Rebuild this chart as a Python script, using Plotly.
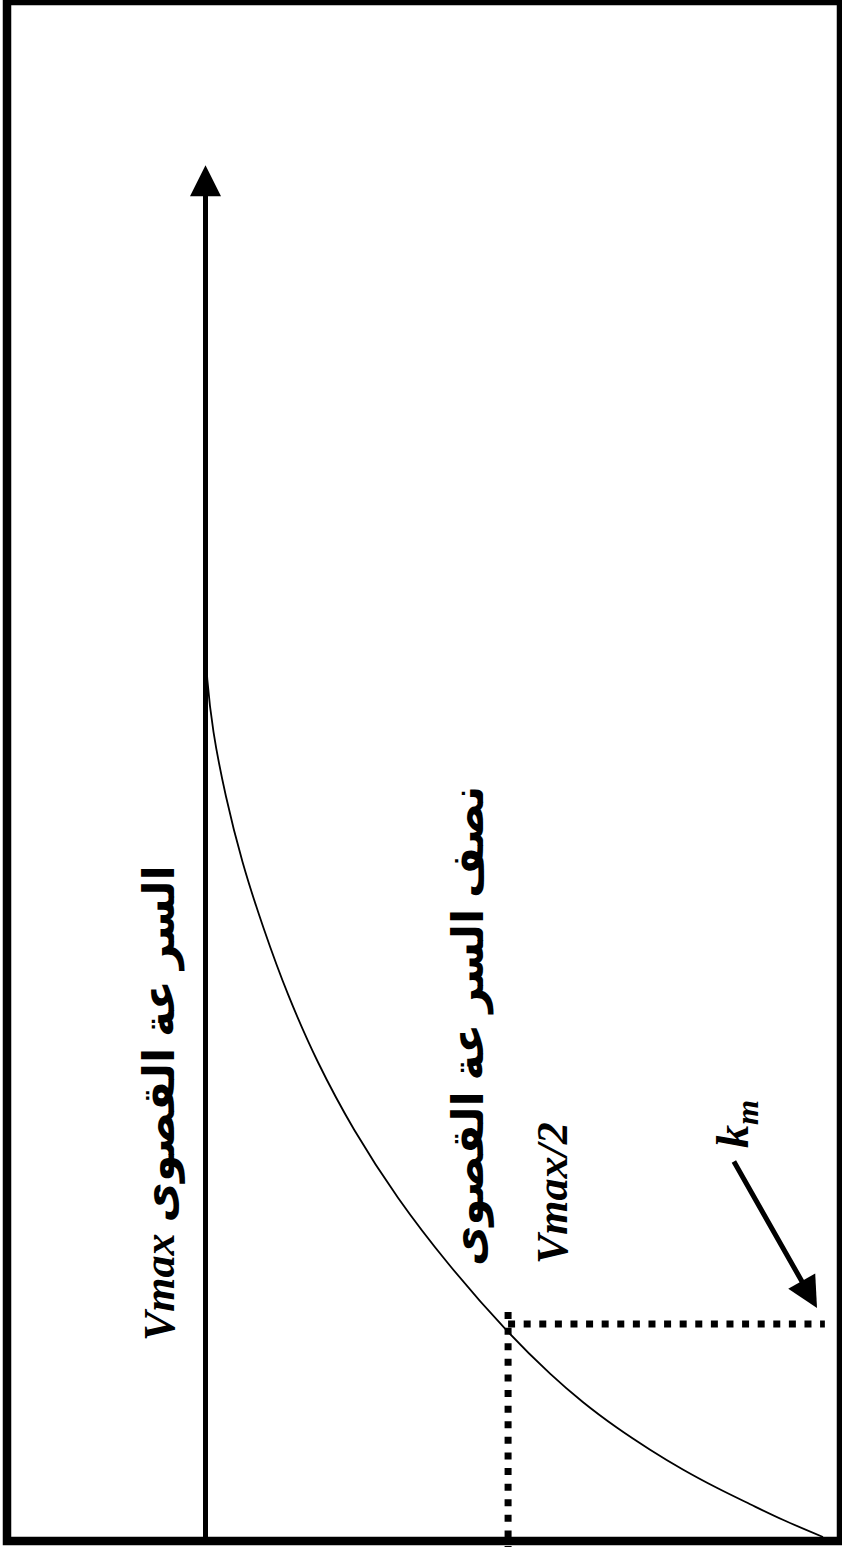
import plotly.graph_objects as go

# ---- data ----
# substrate concentration (units of Km) and velocity (fraction of Vmax)
S_vals = [0.0, 0.081, 0.154, 0.231, 0.317, 0.410, 0.514, 0.634, 0.767, 0.969,
          1.277, 1.592, 1.911, 2.230, 2.545, 2.859, 3.169, 3.479, 3.779, 4.024, 4.211]
v_vals = [0.0, 0.065, 0.118, 0.172, 0.227, 0.280, 0.334, 0.389, 0.442, 0.512,
          0.605, 0.688, 0.759, 0.818, 0.866, 0.906, 0.940, 0.967, 0.987, 0.997, 1.0]
Vmax = 1.0
half_v = 0.51
Km = 1.0
S_top = 6.44          # tip of the Vmax arrow
S_bottom = -0.047     # lower end of the dotted Km line
km_arrow_tail = (0.1457, 1.770)
km_arrow_tip = (0.0097, 1.075)

label_vmax = "<i>Vmax</i> السر عة القصوى"
label_half_ar = "نصف السر عة القصوى"
label_half_lat = "<i>Vmax/2</i>"
label_km = "<i>k</i><sub><i>m</i></sub>"

W, H = 842, 1553

fig = go.Figure()

# Michaelis-Menten curve
fig.add_trace(go.Scatter(x=v_vals, y=S_vals, mode="lines",
                         line=dict(color="black", width=1.8, shape="spline", smoothing=1.0),
                         hoverinfo="skip", showlegend=False))

# dotted guide lines
fig.add_trace(go.Scatter(x=[half_v, -0.003], y=[Km, Km], mode="lines",
                         line=dict(color="black", width=7, dash="7px,8.6px"),
                         hoverinfo="skip", showlegend=False))
fig.add_trace(go.Scatter(x=[half_v, half_v], y=[1.056, S_bottom], mode="lines",
                         line=dict(color="black", width=7, dash="7px,8.6px"),
                         hoverinfo="skip", showlegend=False))

# Vmax arrow
fig.add_annotation(x=Vmax, y=S_top, ax=Vmax, ay=-0.02, xref="x", yref="y",
                   axref="x", ayref="y", text="", showarrow=True,
                   arrowhead=2, arrowwidth=5, arrowsize=1.24, standoff=0,
                   arrowcolor="black")
# Km arrow
fig.add_annotation(x=km_arrow_tip[0], y=km_arrow_tip[1], ax=km_arrow_tail[0],
                   ay=km_arrow_tail[1], xref="x", yref="y", axref="x", ayref="y",
                   text="", showarrow=True, arrowhead=2, arrowwidth=5,
                   arrowsize=1.24, standoff=0, arrowcolor="black")

serif = "Liberation Serif, DejaVu Sans"

def lab(text, px, py, size, yanchor="middle"):
    fig.add_annotation(x=px / W, y=1 - py / H, xref="paper", yref="paper",
                       text="<b>" + text + "</b>", showarrow=False, textangle=-90,
                       xanchor="center", yanchor=yanchor,
                       font=dict(family=serif, size=size, color="black"))

lab(label_vmax, 160, 1103, 44)
lab(label_half_ar, 469, 1268, 44, yanchor="bottom")
lab(label_half_lat, 552, 1266, 44, yanchor="bottom")
lab(label_km, 736, 1124, 46)

# frame
fig.add_shape(type="rect", xref="paper", yref="paper",
              x0=7 / W, x1=841 / W, y0=1 - 1541 / H, y1=1 - 1 / H,
              line=dict(color="black", width=8.5), fillcolor="rgba(0,0,0,0)")

fig.update_xaxes(range=[823 / 617.5, -19 / 617.5], visible=False, fixedrange=True)
fig.update_yaxes(range=[-16 / 213, 1537 / 213], visible=False, fixedrange=True)
fig.update_layout(width=W, height=H, margin=dict(l=0, r=0, t=0, b=0),
                  paper_bgcolor="white", plot_bgcolor="white", showlegend=False)

fig.write_html("out.html", config={"displayModeBar": False},
               post_script="document.body.style.margin='0px';document.body.style.overflow='hidden';")
